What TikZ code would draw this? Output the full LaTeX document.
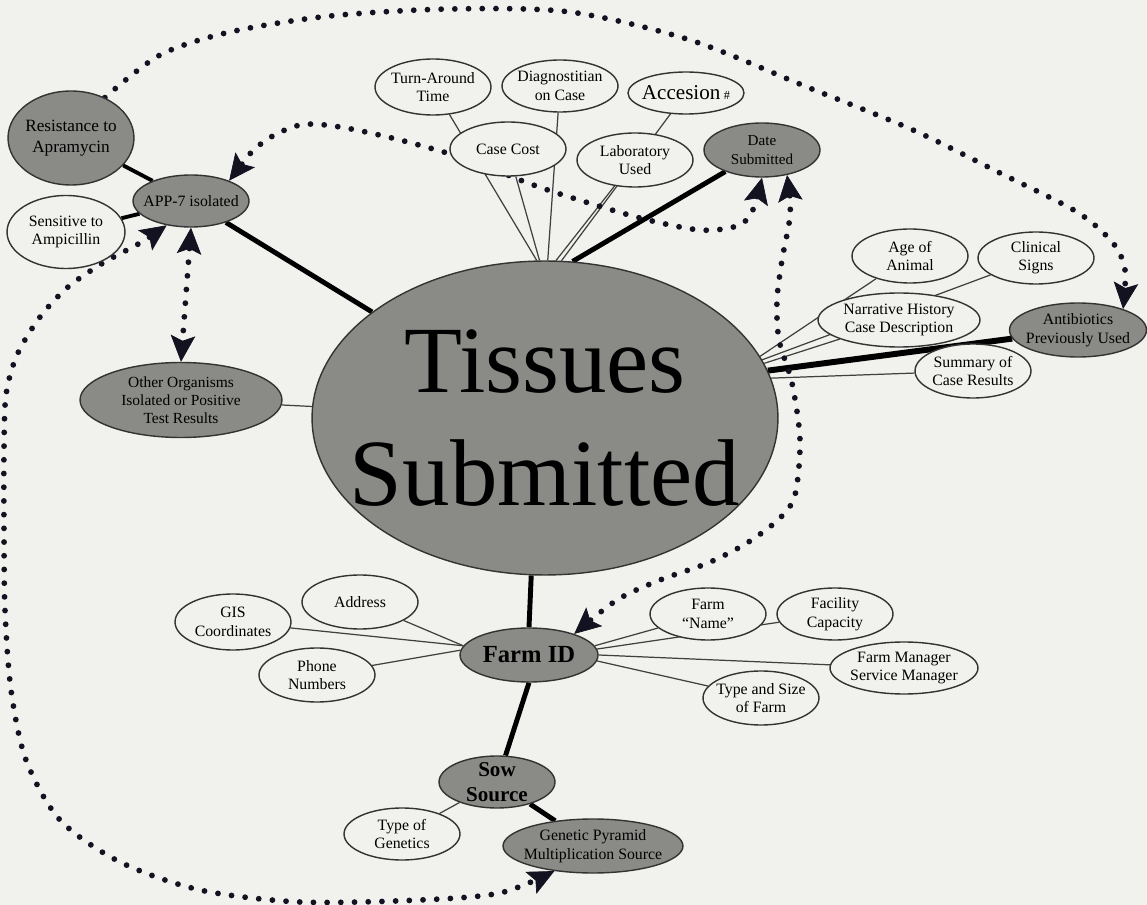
\documentclass[tikz,border=0pt]{standalone}
\usepackage{fontspec}
\setmainfont{Liberation Serif}
\usetikzlibrary{shapes.geometric,arrows.meta}
\definecolor{paper}{RGB}{241,241,237}
\definecolor{hubgray}{RGB}{138,138,135}
\definecolor{ink}{RGB}{18,18,32}
\pgfdeclarelayer{back}
\pgfsetlayers{back,main}

\begin{document}
\begin{tikzpicture}[x=0.02cm,y=-0.02cm,
    concept/.style={ellipse,draw=black!80,line width=0.8pt,inner xsep=-8pt,inner ysep=-2pt,align=center,
        minimum width=2.32cm,minimum height=1.08cm,font=\fontsize{9}{10.5}\selectfont},
    wnode/.style={concept,fill=paper},
    gnode/.style={concept,fill=hubgray},
    link/.style={draw=black!75,line width=0.7pt},
    strong/.style={draw=black,line width=2.8pt},
    dotlink/.style={ink,line width=3.3pt,line cap=round,dash pattern=on 0pt off 7.8pt},
    bigtip/.tip={Stealth[length=15pt,width=14pt,inset=3pt,line width=0.4pt]}]
    \useasboundingbox (0,0) rectangle (1147,905);

    %hub
    \node[gnode,minimum width=9.32cm,minimum height=6.28cm,inner xsep=-27pt,inner ysep=0pt,
        font=\fontsize{54}{64}\selectfont] (tis) at (545,418) {Tissues\\Submitted};

    %left group
    \node[gnode,minimum width=2.52cm,minimum height=1.88cm,font=\fontsize{9.8}{12}\selectfont] (res) at (71,138) {Resistance to\\Apramycin};
    \node[gnode,minimum height=1.04cm] (app) at (191,201) {APP-7 isolated};
    \node[wnode,minimum width=2.36cm,minimum height=1.46cm] (sens) at (66,232) {Sensitive to\\Ampicillin};
    \node[gnode,minimum width=4.04cm,minimum height=1.5cm,font=\fontsize{8.8}{10.4}\selectfont] (oth) at (181,400) {Other Organisms\\Isolated or Positive\\Test Results};

    %top group
    \node[wnode,minimum height=1.12cm] (turn) at (433,87) {Turn-Around\\Time};
    \node[wnode,minimum height=1.04cm] (diag) at (560,86) {Diagnostitian\\on Case};
    \node[wnode,minimum height=0.84cm] (acc) at (686,93) {\fontsize{12}{14}\selectfont Accesion\,{\fontsize{7}{8}\selectfont\#}};
    \node[wnode] (cost) at (508,149) {Case Cost};
    \node[wnode] (lab) at (635,160) {Laboratory\\Used};
    \node[gnode,font=\fontsize{8.6}{10.4}\selectfont] (date) at (762,150) {Date\\Submitted};

    %right group
    \node[wnode] (age) at (910,256) {Age of\\Animal};
    \node[wnode,minimum height=1.04cm] (clin) at (1036,258) {Clinical\\Signs};
    \node[wnode,minimum width=3.24cm] (narr) at (899,320) {Narrative History\\Case Description};
    \node[gnode,minimum width=2.74cm] (anti) at (1078,330) {Antibiotics\\Previously Used};
    \node[wnode] (summ) at (973,371) {Summary of\\Case Results};

    %farm group
    \node[gnode,minimum width=2.76cm,font=\fontsize{14}{16}\selectfont\bfseries] (farm) at (529,655) {Farm ID};
    \node[wnode] (addr) at (360,602) {Address};
    \node[wnode,minimum height=1.12cm] (gis) at (233,622) {GIS\\Coordinates};
    \node[wnode] (phone) at (317,675) {Phone\\Numbers};
    \node[wnode,minimum height=1.04cm] (fname) at (708,614) {Farm\\“Name”};
    \node[wnode,minimum height=1.04cm] (fac) at (835,614) {Facility\\Capacity};
    \node[wnode,minimum width=2.96cm,minimum height=1.04cm] (mgr) at (904,668) {Farm Manager\\Service Manager};
    \node[wnode] (tsize) at (761,698) {Type and Size\\of Farm};

    %sow group
    \node[gnode,minimum height=1.04cm,font=\fontsize{12}{14}\selectfont\bfseries] (sow) at (497,782) {Sow\\Source};
    \node[wnode,minimum height=1.04cm] (gen) at (402,834) {Type of\\Genetics};
    \node[gnode,minimum width=3.6cm] (pyr) at (593,846) {Genetic Pyramid\\Multiplication Source};

    \begin{pgfonlayer}{back}
        \fill[paper] (0,0) rectangle (1147,905);
        %solid links
        \draw[strong] (tis) -- (app);
        \draw[strong,line width=2.2pt] (app) -- (res);
        \draw[strong,line width=2.2pt] (app) -- (sens);
        \draw[link] (tis) -- (oth);
        \draw[link] (tis.93) -- (turn);
        \draw[link] (tis.92) -- (cost);
        \draw[link] (tis.89) -- (diag);
        \draw[link] (tis.86) -- (lab);
        \draw[link] (tis.84) -- (acc);
        \draw[strong] (tis.80) -- (date);
        \draw[link] (tis.16) -- (age);
        \draw[link] (tis.15) -- (clin);
        \draw[link] (tis.14) -- (narr);
        \draw[strong,line width=3.4pt] (tis.12) -- (anti);
        \draw[link] (tis.10) -- (summ);
        \draw[strong] (tis.265) -- (farm.north);
        \draw[link] (farm.172) -- (addr);
        \draw[link] (farm.172) -- (gis);
        \draw[link] (farm.176) -- (phone);
        \draw[link] (farm.8) -- (fname);
        \draw[link] (farm.5) -- (fac);
        \draw[link] (farm.0) -- (mgr);
        \draw[link] (farm.-5) -- (tsize);
        \draw[strong] (farm.south) -- (sow);
        \draw[strong] (sow) -- (pyr);
        \draw[link] (sow) -- (gen);

        %dotted cross links
        \draw[dotlink,-bigtip] plot[smooth] coordinates {(res.50) (160,55) (230,32) (330,16) (450,9) (570,12) (690,40) (807,87) (913,130) (1000,173) (1077,212) (1113,243) (1125,270) (anti.25)};
        \draw[dotlink,bigtip-bigtip] plot[smooth] coordinates {(app.28) (262,143) (300,125) (340,127) (400,140) (470,160) (520,180) (560,194) (640,218) (700,230) (737,226) (752,212) (date.south)};
        \draw[dotlink,bigtip-bigtip] plot[smooth] coordinates {(date.-45) (790,215) (782,260) (777,300) (779,340) (792,383) (800,440) (795,495) (779,519) (747,543) (708,563) (660,580) (617,600) (farm.25)};
        \draw[dotlink,bigtip-bigtip] (app.south) -- (oth.north);
        \draw[dotlink,bigtip-bigtip] plot[smooth] coordinates {(app.225) (140,243) (103,263) (68,287) (40,317) (17,355) (6,395) (4,450) (4,530) (5,610) (11,690) (26,760) (60,820) (120,862) (200,890) (300,902) (420,900) (500,893) (pyr.-147)};
    \end{pgfonlayer}
\end{tikzpicture}
\end{document}
